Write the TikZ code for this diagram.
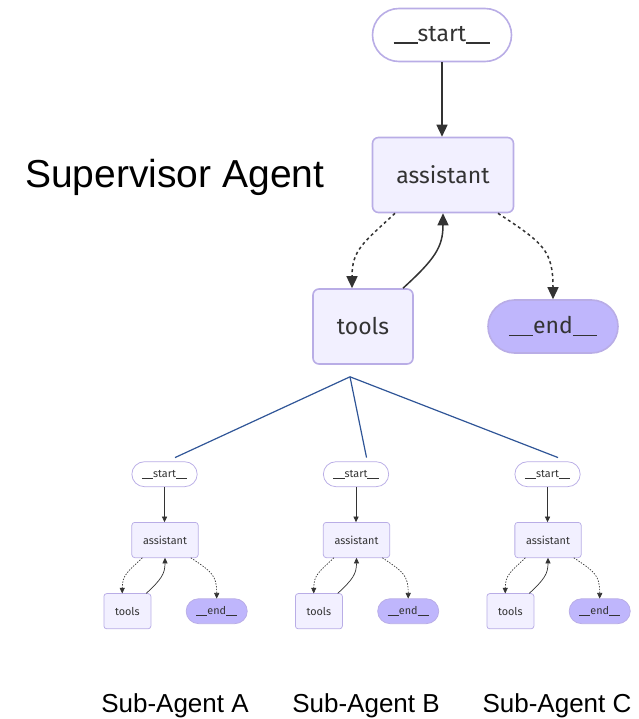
\documentclass[tikz,border=0pt]{standalone}
\usepackage{fontspec}
\setmainfont{Liberation Sans}
\newfontfamily\graphfont{Fira Sans}
\usetikzlibrary{arrows.meta,shapes.misc}

\definecolor{nodefill}{HTML}{F2F0FF}
\definecolor{nodeline}{HTML}{B9ADE6}
\definecolor{endfill}{HTML}{BFB6FC}
\definecolor{inkgrey}{HTML}{333333}
\definecolor{linkblue}{HTML}{2F5597}

% a wide double underscore, as in the graph's node names
\newcommand\dunder{\rule[-0.1em]{1.05em}{0.07em}}

\tikzset{
  graphtext/.style={text=inkgrey, font=\graphfont\fontsize{23}{27}\selectfont, inner sep=0pt},
  graphbox/.style={graphtext, draw=nodeline, fill=nodefill, rectangle},
  pillbox/.style={graphtext, draw=nodeline, rounded rectangle, minimum height=53pt},
  fanline/.style={draw=linkblue, line width=1.2pt},
  titletext/.style={font=\fontsize{39}{47}\selectfont, text=black, inner sep=0pt, anchor=base west},
  subtext/.style={font=\fontsize{26}{31}\selectfont, text=black, inner sep=0pt, anchor=base},
}

% One agent graph: prefix, x, y of the assistant node, scale factor
\newcommand\agentgraph[4]{%
  \pgfmathsetmacro\agsc{#4}%
  \pgfmathsetlengthmacro\aglw{1.5pt*#4}%
  \pgfmathsetlengthmacro\agbw{1.6pt*#4}%
  \pgfmathsetlengthmacro\agdash{3pt*#4}%
  \pgfmathsetlengthmacro\agrc{6pt*#4}%
  \begin{scope}[shift={(#2,#3)}, scale=#4, transform shape,
      solidlink/.style={draw=inkgrey, line width=\aglw, -{Triangle[length=12pt, width=11pt, scale=\agsc]}},
      dottedlink/.style={solidlink, dash pattern=on \agdash off \agdash}]
    \node[pillbox, fill=white, line width=\agbw, minimum width=139pt] (#1-st) at (-1,-140) {\dunder start\dunder};
    \node[graphbox, rounded corners=\agrc, line width=\agbw, minimum width=141pt, minimum height=75pt] (#1-a) at (0,0) {assistant};
    \node[graphbox, rounded corners=\agrc, line width=\agbw, minimum width=100pt, minimum height=75pt] (#1-t) at (-80,151.5) {tools};
    \node[pillbox, fill=endfill, line width=\agbw, minimum width=130pt] (#1-e) at (110,151.5) {\dunder end\dunder};
    % x positions where the edges meet the boxes
    \coordinate (#1-xa) at (-48,0);
    \coordinate (#1-xt) at (-91,0);
    \coordinate (#1-xr) at (-40,0);
    \coordinate (#1-xe) at (55,0);
    \draw[solidlink] (#1-st.south) -- (#1-st.south |- #1-a.north);
    \draw[dottedlink] (#1-a.south -| #1-xa) .. controls (-80,68) and (-91,75) .. (#1-t.north -| #1-xt);
    \draw[solidlink] (#1-t.north -| #1-xr) .. controls (-8,84) and (0,72) .. (#1-a.south);
    \draw[dottedlink] (#1-a.south -| #1-xe) .. controls (100,68) and (110,75) .. (#1-e.north);
  \end{scope}}

\begin{document}
\begin{tikzpicture}[x=1pt, y=-1pt]
  \useasboundingbox (0,0) rectangle (638,719);

  % supervisor graph and its title
  \agentgraph{main}{443}{175}{1}
  \node[titletext] (suptitle) at (25,188) {Supervisor Agent};

  % the three sub-agent graphs
  \agentgraph{A}{165}{540}{0.47}
  \agentgraph{B}{356.5}{540}{0.47}
  \agentgraph{C}{548}{540}{0.47}

  % fan-out from the supervisor's tools to each sub-agent
  \coordinate (hub) at ([shift={(-13,12)}]main-t.south);
  \draw[fanline] (hub) -- ([shift={(10.5,-4)}]A-st.north);
  \draw[fanline] (hub) -- ([shift={(10.5,-4)}]B-st.north);
  \draw[fanline] (hub) -- ([shift={(10.5,-4)}]C-st.north);

  \node[subtext] (labA) at (175,712) {Sub-Agent A};
  \node[subtext] (labB) at (366,712) {Sub-Agent B};
  \node[subtext] (labC) at (557,712) {Sub-Agent C};
\end{tikzpicture}
\end{document}
